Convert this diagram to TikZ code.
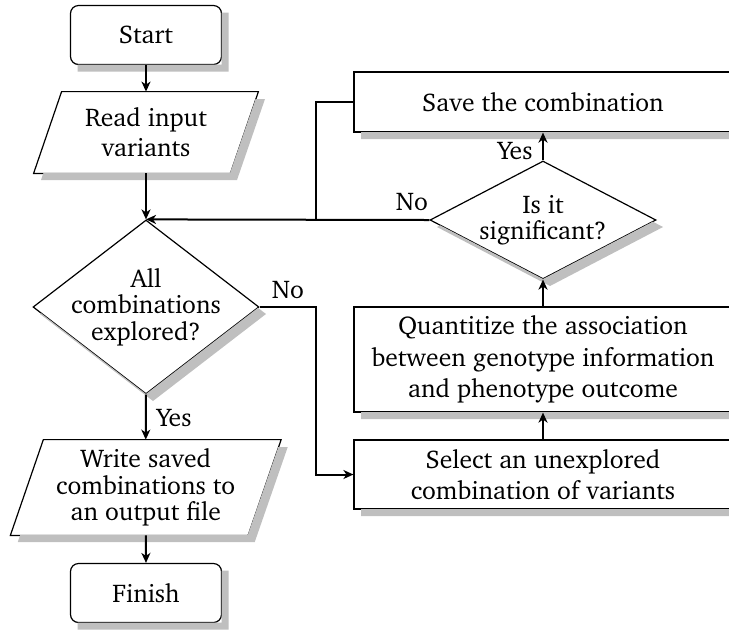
\documentclass[tikz,border=0pt]{standalone}
\usepackage[T1]{fontenc}
\usepackage{charter}
\usetikzlibrary{shapes.geometric,arrows.meta,calc}
\begin{document}
\begin{tikzpicture}[x=0.5pt,y=-0.5pt,
  font=\fontsize{12.8}{15}\selectfont,
  base/.style={draw,line width=0.6pt,inner sep=1pt,align=center},
  term/.style={base,rounded corners=4pt,minimum width=75.5pt,minimum height=29.5pt},
  iotext/.style={inner sep=0pt,align=center},
  iobox/.style={draw,line width=0.6pt},
  proc/.style={base,rectangle,minimum width=189pt},
  decis/.style={base,diamond},
  shadowfill/.style={fill=gray!50,draw=none},
  arr/.style={line width=1pt,-{Stealth[length=5pt,width=4.5pt,inset=1.5pt]}},
  ln/.style={line width=1pt},
  lbl/.style={inner sep=0pt}
]
\useasboundingbox (0,0) rectangle (729,629);

% terminals
\node[term] (start) at (146,35) {Start};
\node[term] (finish) at (146,593) {Finish};

% input/output (parallelograms)
\node[iotext,minimum width=98pt,minimum height=40.5pt] (read) at (146,132.5) {};
\node[iotext,minimum width=118.5pt,minimum height=47.5pt] (write) at (145.75,487.5) {};
\draw[iobox] ($(read.south west)+(-14,0)$) -- ($(read.north west)+(14,0)$) -- ($(read.north east)+(14,0)$) -- ($(read.south east)+(-14,0)$) -- cycle;
\draw[iobox] ($(write.south west)+(-16.5,0)$) -- ($(write.north west)+(16.5,0)$) -- ($(write.north east)+(16.5,0)$) -- ($(write.south east)+(-16.5,0)$) -- cycle;
\node[iotext,font=\fontsize{12.8}{15}\selectfont] (readtxt) at (read) {Read input\\variants};
\node[iotext,font=\fontsize{12.8}{13.2}\selectfont] (writetxt) at (write) {Write saved\\combinations to\\an output file};

% decisions
\node[decis,minimum width=113pt,minimum height=87pt] (all) at (146,307) {\strut};
\node[iotext,font=\fontsize{12.8}{13.2}\selectfont] (alltxt) at (all) {All\\combinations\\explored?};
\node[decis,minimum width=113pt,minimum height=59pt] (sig) at (543,220) {\strut};
\node[iotext,font=\fontsize{12.8}{12.8}\selectfont] (sigtxt) at (sig) {Is it\\significant?};

% processes
\node[proc,minimum height=30pt] (save) at (543,102) {Save the combination};
\node[proc,minimum height=52.5pt,font=\fontsize{12.8}{15.7}\selectfont] (quant) at (543,359.5) {Quantitize the association\\between genotype information\\and phenotype outcome};
\node[proc,minimum height=34.5pt,font=\fontsize{12.8}{15.7}\selectfont] (select) at (543,474.5) {Select an unexplored\\combination of variants};

% shadows: only the parts lying outside each shape (offset 7px right and down)
\fill[shadowfill] (221.5,12.5) -- (228.5,12.5) -- (228.5,71.5) -- (77.5,71.5) -- (77.5,64.5) -- (221.5,64.5) -- cycle;
\fill[shadowfill] (221.5,570.5) -- (228.5,570.5) -- (228.5,629.5) -- (77.5,629.5) -- (77.5,622.5) -- (221.5,622.5) -- cycle;
\fill[shadowfill] (732,79) -- (739,79) -- (739,139) -- (361,139) -- (361,132) -- (732,132) -- cycle;
\fill[shadowfill] (732,314) -- (739,314) -- (739,419) -- (361,419) -- (361,412) -- (732,412) -- cycle;
\fill[shadowfill] (732,447) -- (739,447) -- (739,516) -- (361,516) -- (361,509) -- (732,509) -- cycle;
\fill[shadowfill] (255.58,99) -- (265,99) -- (237,180) -- (41,180) -- (43.42,173) -- (230,173) -- cycle;
\fill[shadowfill] (278.32,447) -- (287.75,447) -- (254.75,542) -- (17.75,542) -- (20.18,535) -- (247.75,535) -- cycle;
\fill[shadowfill] (257.95,307.81) -- (266,314) -- (153,401) -- (40,314) -- (41.05,313.19) -- (146,394) -- cycle;
\fill[shadowfill] (652.80,221.67) -- (663,227) -- (550,286) -- (437,227) -- (440.20,225.33) -- (543,279) -- cycle;

\coordinate (jn) at (316,220);
\coordinate (c1) at (316,307);

\draw[arr] (start.south) -- (read.north);
\draw[arr] (read.south) -- (all.north);
\draw[arr] (sig.west) -- (all.north);
\draw[ln] (save.west) -| (jn);
\draw[arr] (all.east) -- (c1) |- (select.west);
\draw[arr] (all.south) -- (write.north);
\draw[arr] (write.south) -- (finish.north);
\draw[arr] (select.north) -- (quant.south);
\draw[arr] (quant.north) -- (sig.south);
\draw[arr] (sig.north) -- (save.south);

\node[lbl] (no1) at (288,290) {No};
\node[lbl] (yes1) at (174,418) {Yes};
\node[lbl] (no2) at (412,202) {No};
\node[lbl] (yes2) at (515,151) {Yes};
\end{tikzpicture}
\end{document}
